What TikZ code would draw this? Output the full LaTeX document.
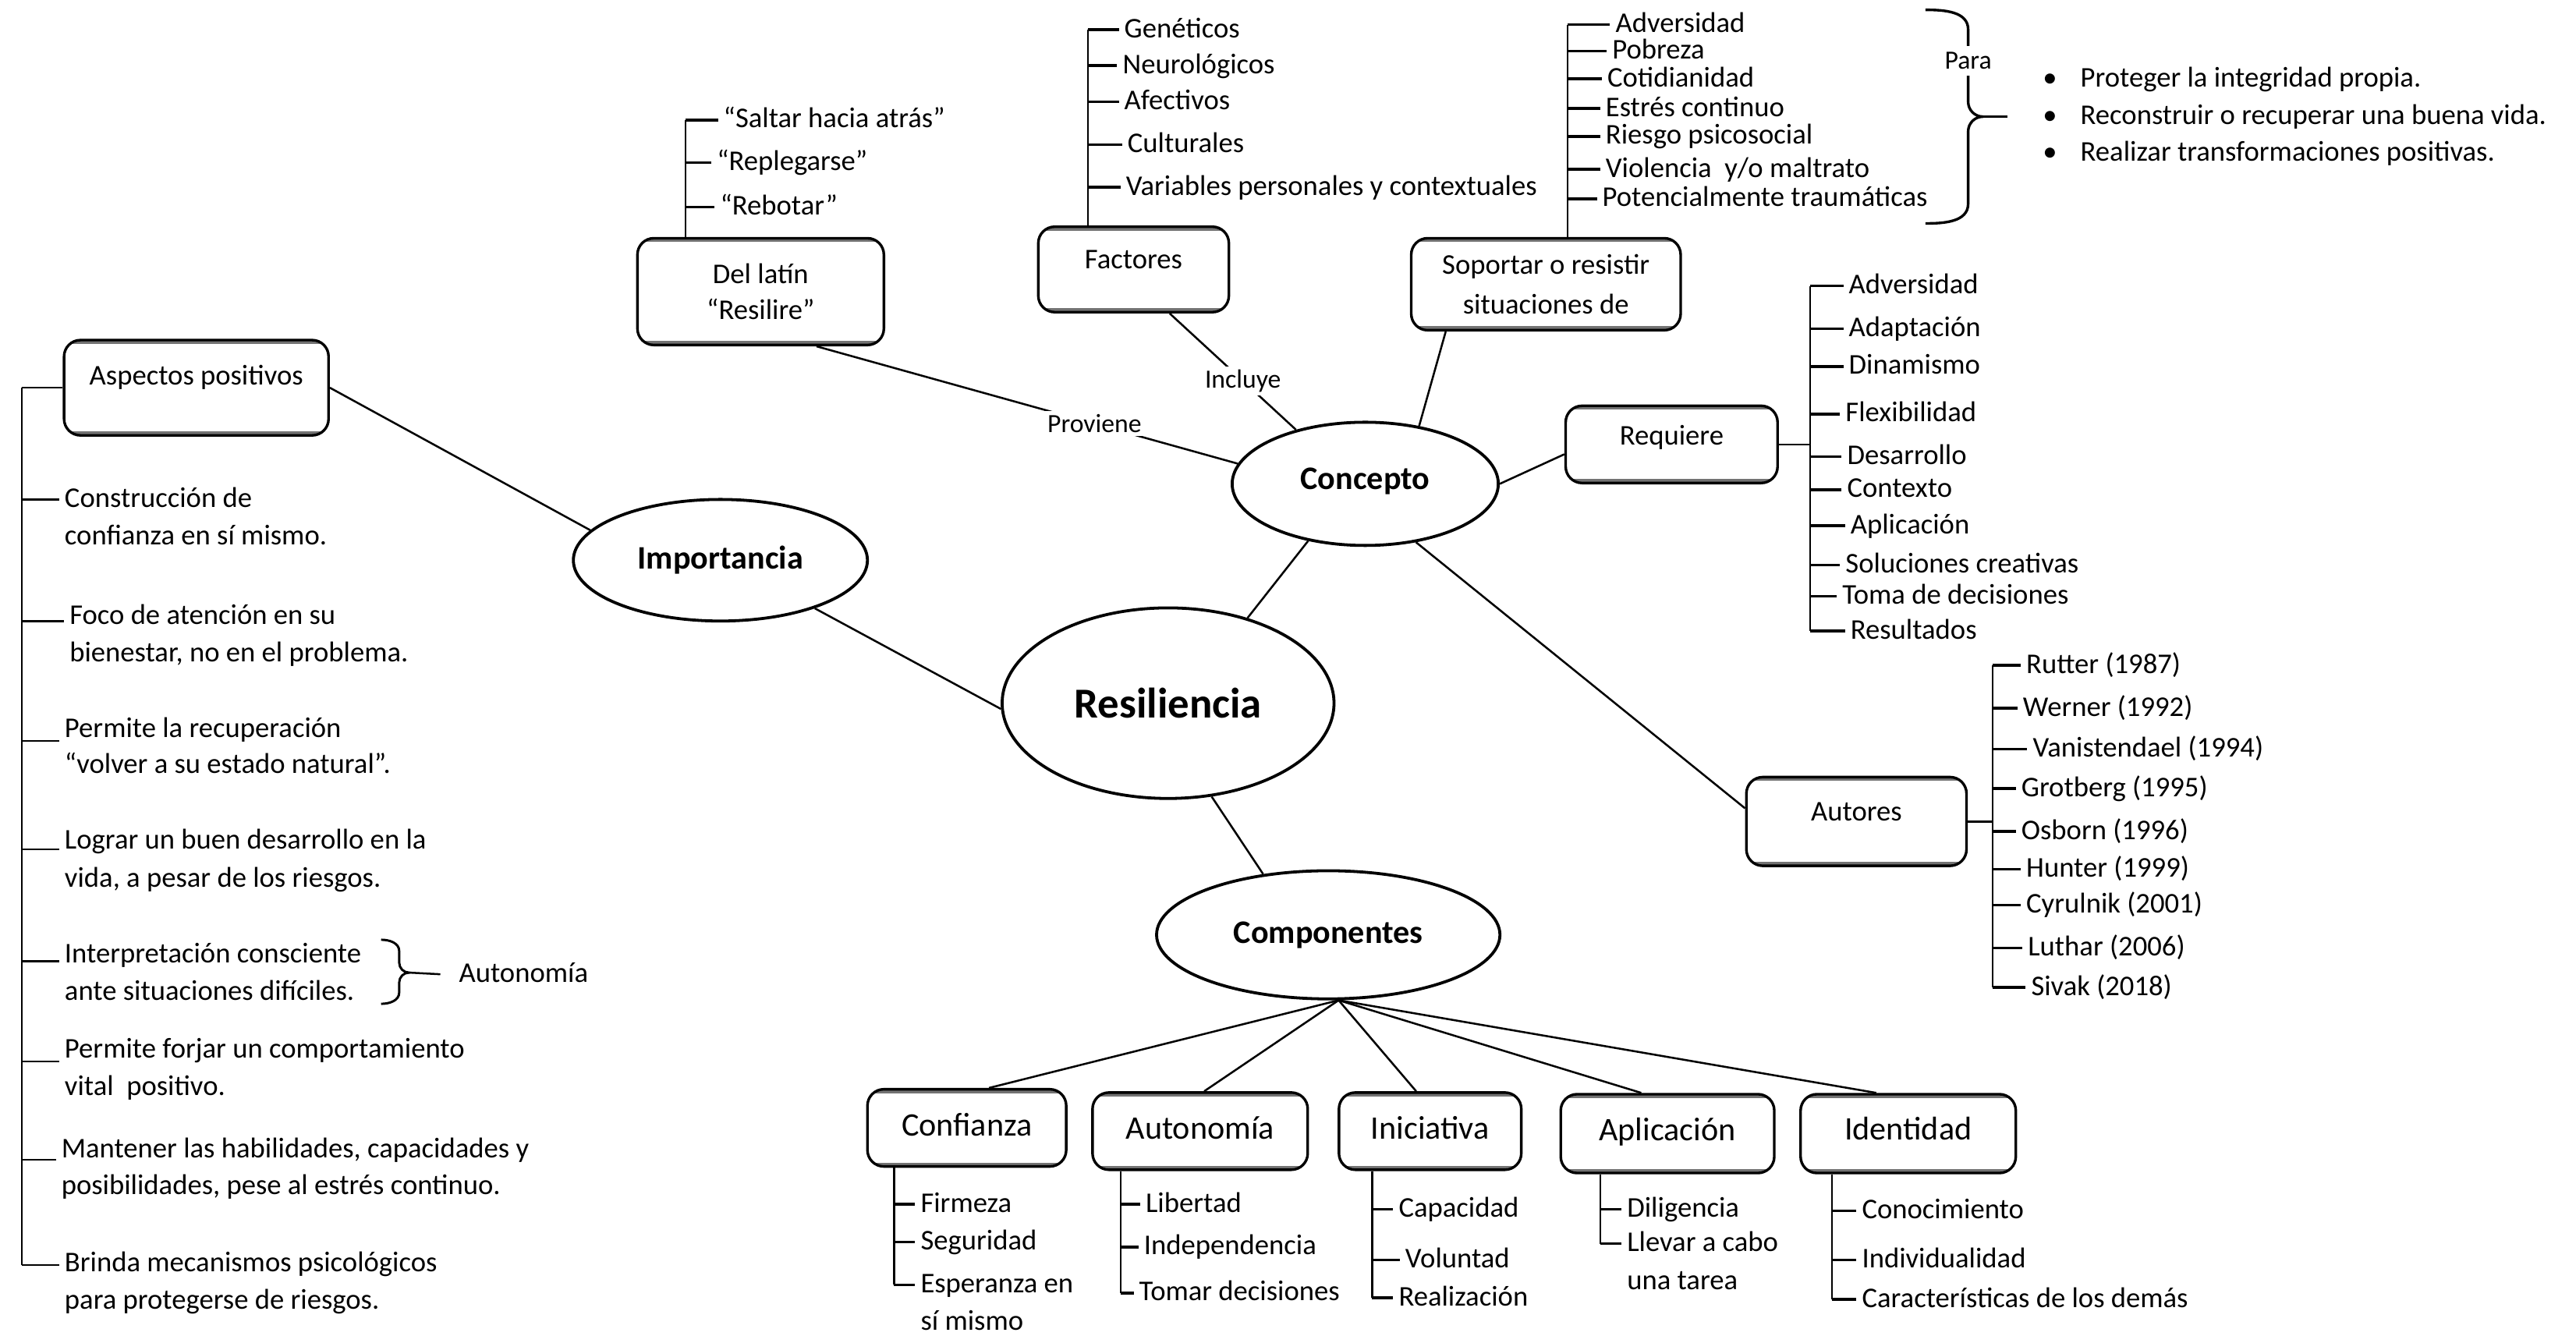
\documentclass[tikz,border=0pt]{standalone}
\usepackage{fontspec}
\setmainfont{Carlito}
\usetikzlibrary{shapes.geometric,calc}
\begin{document}
\begin{tikzpicture}[x=0.5pt,y=-0.5pt,
  every node/.style={font=\fontsize{8.7}{11}\selectfont},
  box/.style={draw, rounded corners=5pt, line width=0.8pt, align=center, inner sep=1pt,
    path picture={\draw[black!55, line width=2.4pt]
      (path picture bounding box.north west) -- (path picture bounding box.north east)
      (path picture bounding box.south west) -- (path picture bounding box.south east);}},
  oval/.style={draw, ellipse, line width=0.9pt, inner sep=0pt, font=\fontsize{10}{12}\selectfont\bfseries},
  comp/.style={box, font=\fontsize{10}{12}\selectfont},
  item/.style={anchor=west, inner sep=1.5pt, text height=0.7em, text depth=0.22em},
  conn/.style={line width=0.6pt},
  tick/.style={line width=0.85pt},
  lab/.style={fill=white, inner sep=1pt, font=\fontsize{8}{10}\selectfont}
]
\useasboundingbox (0,0) rectangle (1568,813);

% ---------- ellipses ----------
\node[oval, minimum width=101pt, minimum height=58pt, font=\fontsize{13}{15}\selectfont\bfseries] (resil) at (711,428) {Resiliencia};
\node[oval, minimum width=81pt, minimum height=37.5pt, text depth=3pt] (concepto) at (831,294.5) {Concepto};
\node[oval, minimum width=89.5pt, minimum height=37pt] (importancia) at (438.5,341) {Importancia};
\node[oval, minimum width=104.5pt, minimum height=39pt] (componentes) at (808.5,569) {Componentes};

% ---------- boxes ----------
\node[box, minimum width=75pt, minimum height=32.5pt] (latin) at (463,177.5) {Del latín\\“Resilire”};
\node[box, minimum width=58pt, minimum height=26pt, text depth=6pt] (factores) at (690,164) {Factores};
\node[box, minimum width=82pt, minimum height=28pt, font=\fontsize{8.7}{12}\selectfont] (soportar) at (941,173) {Soportar o resistir\\situaciones de};
\node[box, minimum width=80.5pt, minimum height=29pt, text depth=7.8pt] (aspectos) at (119.5,236) {Aspectos positivos};
\node[box, minimum width=64.5pt, minimum height=23.5pt, text depth=5.8pt] (requiere) at (1017.5,270.5) {Requiere};
\node[box, minimum width=67pt, minimum height=27pt, text depth=6pt] (autores) at (1130,500) {Autores};

\node[comp, minimum width=60.5pt, minimum height=23.5pt, text depth=2pt] (confianza) at (588.5,686.5) {Confianza};
\node[comp, minimum width=65.5pt, minimum height=23.5pt, text depth=2pt] (autonomia) at (730.5,688.5) {Autonomía};
\node[comp, minimum width=55.5pt, minimum height=23.5pt, text depth=2pt] (iniciativa) at (870.5,688.5) {Iniciativa};
\node[comp, minimum width=65pt, minimum height=24pt, text depth=2.9pt] (aplicacion) at (1015,690) {Aplicación};
\node[comp, minimum width=65.5pt, minimum height=24pt, text depth=3pt] (identidad) at (1161.5,690) {Identidad};

% ---------- main connectors ----------
\draw[conn] ($(latin.south)+(34,0)$) -- node[lab,pos=0.66] (proviene) {Proviene} (concepto.171);
\draw[conn] ($(factores.south)+(22,0)$) -- node[lab,pos=0.58] (incluye) {Incluye} (concepto.142);
\draw[conn] ($(soportar.south)+(-61,0)$) -- (concepto.47);
\draw[conn] (concepto.east) -- ($(requiere.west)+(0,6)$);
\draw[conn] (concepto.-49) -- ($(autores.west)+(0,-8)$);
\draw[conn] (concepto.-135) -- (resil.47);
\draw[conn] (importancia.-27) -- (resil.182);
\draw[conn] (aspectos.east) -- (importancia.167);
\draw[conn] (resil.-65) -- (componentes.137);
\draw[conn] (componentes.-81) -- ($(confianza.north)+(13.5,0)$);
\draw[conn] (componentes.-81) -- ($(autonomia.north)+(2.5,0)$);
\draw[conn] (componentes.-81) -- ($(iniciativa.north)+(-8.5,0)$);
\draw[conn] (componentes.-81) -- ($(aplicacion.north)+(-16,0)$);
\draw[conn] (componentes.-81) -- ($(identidad.north)+(-19.5,0)$);

% ---------- Del latin ----------
\node[item] (dl1) at (437,73) {“Saltar hacia atrás”};
\node[item] (dl2) at (433,99) {“Replegarse”};
\node[item] (dl3) at (435,126) {“Rebotar”};
\coordinate (dlroot) at ($(latin.north west)+(30,0)$);
\draw[conn] (dlroot) -- (dlroot |- dl1.west);
\foreach \n in {dl1,dl2,dl3} \draw[tick] (dlroot |- \n.west) -- (\n.west);

% ---------- Factores ----------
\node[item] (f1) at (681,18) {Genéticos};
\node[item] (f2) at (680,40) {Neurológicos};
\node[item] (f3) at (681,62) {Afectivos};
\node[item] (f4) at (683,88) {Culturales};
\node[item] (f5) at (682,114) {Variables personales y contextuales};
\coordinate (froot) at ($(factores.north west)+(31,0)$);
\draw[conn] (froot) -- (froot |- f1.west);
\foreach \n in {f1,f2,f3,f4,f5} \draw[tick] (froot |- \n.west) -- (\n.west);

% ---------- Soportar ----------
\node[item] (s1) at (980,15) {Adversidad};
\node[item] (s2) at (978,31) {Pobreza};
\node[item] (s3) at (975,48) {Cotidianidad};
\node[item] (s4) at (974,66) {Estrés continuo};
\node[item] (s5) at (974,83) {Riesgo psicosocial};
\node[item] (s6) at (974,103) {Violencia~ y/o maltrato};
\node[item] (s7) at (972,121) {Potencialmente traumáticas};
\coordinate (sroot) at ($(soportar.north west)+(96,0)$);
\draw[conn] (sroot) -- (sroot |- s1.west);
\foreach \n in {s1,s2,s3,s4,s5,s6,s7} \draw[tick] (sroot |- \n.west) -- (\n.west);

% brace "Para"
\draw[line width=0.8pt] (1172,6) to[out=0,in=90] (1198,18) -- (1198,62) to[out=-90,in=180] (1207,71)
  to[out=180,in=90] (1198,80) -- (1198,124) to[out=-90,in=0] (1172,136);
\node[lab, inner sep=2pt] (para) at (1198,37) {Para};
\coordinate (paratip) at (1207,71);
\coordinate (paraend) at (1222,71);
\draw[tick] (paratip) -- (paraend);
\node[item] (pb1) at (1240,48) {•};
\node[item] (pb2) at (1240,71) {•};
\node[item] (pb3) at (1240,93) {•};
\node[item] (p1) at (1263,48) {Proteger la integridad propia.};
\node[item] (p2) at (1263,71) {Reconstruir o recuperar una buena vida.};
\node[item] (p3) at (1263,93) {Realizar transformaciones positivas.};

% ---------- Requiere ----------
\node[item] (r1) at (1122,174) {Adversidad};
\node[item] (r2) at (1122,200) {Adaptación};
\node[item] (r3) at (1122,223) {Dinamismo};
\node[item] (r4) at (1120,252) {Flexibilidad};
\node[item] (r5) at (1121,278) {Desarrollo};
\node[item] (r6) at (1121,298) {Contexto};
\node[item] (r7) at (1123,320) {Aplicación};
\node[item] (r8) at (1120,344) {Soluciones creativas};
\node[item] (r9) at (1118,363) {Toma de decisiones};
\node[item] (r10) at (1123,384) {Resultados};
\coordinate (rqroot) at ($(requiere.east)+(19,0)$);
\draw[conn] (requiere.east) -- (rqroot);
\draw[conn] (rqroot |- r1.west) -- (rqroot |- r10.west);
\foreach \n in {r1,r2,r3,r4,r5,r6,r7,r8,r9,r10} \draw[tick] (rqroot |- \n.west) -- (\n.west);

% ---------- Autores ----------
\node[item] (a1) at (1230,405) {Rutter (1987)};
\node[item] (a2) at (1228,431) {Werner (1992)};
\node[item] (a3) at (1234,456) {Vanistendael (1994)};
\node[item] (a4) at (1227,480) {Grotberg (1995)};
\node[item] (a5) at (1227,506) {Osborn (1996)};
\node[item] (a6) at (1230,529) {Hunter (1999)};
\node[item] (a7) at (1230,551) {Cyrulnik (2001)};
\node[item] (a8) at (1231,577) {Luthar (2006)};
\node[item] (a9) at (1233,601) {Sivak (2018)};
\coordinate (auroot) at ($(autores.east)+(15,0)$);
\draw[conn] (autores.east) -- (auroot);
\draw[conn] (auroot |- a1.west) -- (auroot |- a9.west);
\foreach \n in {a1,a2,a3,a4,a5,a6,a7,a8,a9} \draw[tick] (auroot |- \n.west) -- (\n.west);

% ---------- Aspectos positivos ----------
\node[item] (L1) at (36,304) {Construcción de};
\node[item] (L1b) at (36,327) {confianza en sí mismo.};
\node[item] (L2) at (39,375) {Foco de atención en su};
\node[item] (L2b) at (39,398) {bienestar, no en el problema.};
\node[item] (L3) at (36,444) {Permite la recuperación};
\node[item] (L3b) at (36,466) {“volver a su estado natural”.};
\node[item] (L4) at (36,512) {Lograr un buen desarrollo en la};
\node[item] (L4b) at (36,535) {vida, a pesar de los riesgos.};
\node[item] (L5) at (36,581) {Interpretación consciente};
\node[item] (L5b) at (36,604) {ante situaciones difíciles.};
\node[item] (L6) at (36,639) {Permite forjar un comportamiento};
\node[item] (L6b) at (36,662) {vital~ positivo.};
\node[item] (L7) at (34,700) {Mantener las habilidades, capacidades y};
\node[item] (L7b) at (34,722) {posibilidades, pese al estrés continuo.};
\node[item] (L8) at (36,769) {Brinda mecanismos psicológicos};
\node[item] (L8b) at (36,792) {para protegerse de riesgos.};
\coordinate (lroot) at ($(aspectos.west)+(-25,0)$);
\draw[conn] (aspectos.west) -- (lroot);
\draw[conn] (lroot) -- ($(lroot |- L8.west)+(0,1)$);
\foreach \n/\d in {L1/0,L2/3,L3/7,L4/5,L5/4,L6/7,L7/6,L8/1}
  \draw[conn] ($(lroot |- \n.west)+(0,\d)$) -- ($(\n.west)+(0,\d)$);

% brace Autonomia
\draw[line width=0.7pt] (232,572) to[out=0,in=90] (243,579) -- (243,586) to[out=-90,in=180] (249,592)
  to[out=180,in=90] (243,598) -- (243,604) to[out=-90,in=0] (232,611);
\coordinate (autotip) at (249,592);
\node[item] (autolab) at (276,593) {Autonomía};
\draw[conn] (autotip) -- ($(autolab.west)+(-8,0)$);

% ---------- Componentes ----------
\node[item] (cf1) at (557,733) {Firmeza};
\node[item] (cf2) at (557,756) {Seguridad};
\node[item] (cf3) at (557,782) {Esperanza en};
\node[item] (cf3b) at (557,805) {sí mismo};
\coordinate (cfroot) at ($(confianza.south west)+(17,0)$);
\draw[conn] (cfroot) -- (cfroot |- cf3.west);
\foreach \n in {cf1,cf2,cf3} \draw[tick] (cfroot |- \n.west) -- (\n.west);

\node[item] (au1) at (694,733) {Libertad};
\node[item] (au2) at (693,759) {Independencia};
\node[item] (au3) at (690,787) {Tomar decisiones};
\coordinate (auroot2) at ($(autonomia.south west)+(18,0)$);
\draw[conn] (auroot2) -- (auroot2 |- au3.west);
\foreach \n in {au1,au2,au3} \draw[tick] (auroot2 |- \n.west) -- (\n.west);

\node[item] (in1) at (848,736) {Capacidad};
\node[item] (in2) at (852,767) {Voluntad};
\node[item] (in3) at (848,790) {Realización};
\coordinate (inroot) at ($(iniciativa.south west)+(21,0)$);
\draw[conn] (inroot) -- (inroot |- in3.west);
\foreach \n in {in1,in2,in3} \draw[tick] (inroot |- \n.west) -- (\n.west);

\node[item] (ap1) at (987,736) {Diligencia};
\node[item] (ap2) at (987,757) {Llevar a cabo};
\node[item] (ap2b) at (987,780) {una tarea};
\coordinate (aproot) at ($(aplicacion.south west)+(25,0)$);
\draw[conn] (aproot) -- (aproot |- ap2.west);
\foreach \n in {ap1,ap2} \draw[tick] (aproot |- \n.west) -- (\n.west);

\node[item] (id1) at (1130,737) {Conocimiento};
\node[item] (id2) at (1130,767) {Individualidad};
\node[item] (id3) at (1130,791) {Características de los demás};
\coordinate (idroot) at ($(identidad.south west)+(20,0)$);
\draw[conn] (idroot) -- (idroot |- id3.west);
\foreach \n in {id1,id2,id3} \draw[tick] (idroot |- \n.west) -- (\n.west);

\end{tikzpicture}
\end{document}
